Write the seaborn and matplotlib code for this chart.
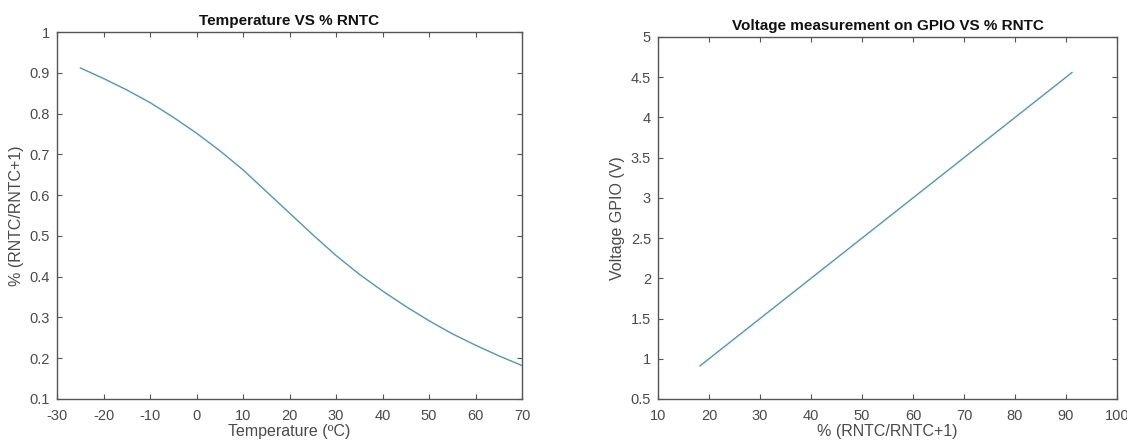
import matplotlib
matplotlib.use("Agg")
import matplotlib.pyplot as plt
import seaborn as sns
import pandas as pd

# Left panel: temperature vs fraction RNTC/(RNTC+1)
temperature = [-25, -20, -15, -10, -5, 0, 5, 10, 15, 20, 25, 30, 35, 40, 45, 50, 55, 60, 65, 70]
fraction = [0.912, 0.886, 0.858, 0.827, 0.791, 0.752, 0.709, 0.662, 0.609, 0.556, 0.503, 0.452, 0.406, 0.365, 0.327, 0.292, 0.260, 0.232, 0.206, 0.182]

# Right panel: percent vs GPIO voltage
percent = [18.2, 30.0, 40.0, 50.0, 60.0, 70.0, 80.0, 91.2]
voltage = [0.91, 1.50, 2.00, 2.50, 3.00, 3.50, 4.00, 4.56]

left_xticks = [-30, -20, -10, 0, 10, 20, 30, 40, 50, 60, 70]
left_yticks = [0.1, 0.2, 0.3, 0.4, 0.5, 0.6, 0.7, 0.8, 0.9, 1]
right_xticks = [10, 20, 30, 40, 50, 60, 70, 80, 90, 100]
right_yticks = [0.5, 1, 1.5, 2, 2.5, 3, 3.5, 4, 4.5, 5]

sns.set_style("white")
plt.rcParams['font.family'] = ['Liberation Sans', 'DejaVu Sans']

line_color = "#5096bd"
axis_color = "#555555"
text_color = "#4a4a4a"

fig = plt.figure(figsize=(11.27, 4.45), dpi=100)
ax1 = fig.add_axes([57/1127, 46/445, 465/1127, 367/445])
ax2 = fig.add_axes([658/1127, 46/445, 459/1127, 362/445])

df1 = pd.DataFrame({"t": temperature, "f": fraction})
df2 = pd.DataFrame({"p": percent, "v": voltage})
sns.lineplot(data=df1, x="t", y="f", ax=ax1, color=line_color, linewidth=1.0)
sns.lineplot(data=df2, x="p", y="v", ax=ax2, color=line_color, linewidth=1.0)

def fmt(v):
    return f"{v:g}"

def style(ax, xticks, yticks, title, xlabel, ylabel):
    ax.set_xlim(xticks[0], xticks[-1])
    ax.set_ylim(yticks[0], yticks[-1])
    ax.set_xticks(xticks)
    ax.set_yticks(yticks)
    ax.set_xticklabels([fmt(v) for v in xticks])
    ax.set_yticklabels([fmt(v) for v in yticks])
    ax.tick_params(direction="in", length=3.5, width=0.8, color=axis_color,
                   labelcolor=text_color, labelsize=10.5, top=True, right=True,
                   bottom=True, left=True)
    ax.tick_params(axis="x", pad=7)
    ax.tick_params(axis="y", pad=5)
    for sp in ax.spines.values():
        sp.set_visible(True)
        sp.set_color(axis_color)
        sp.set_linewidth(1.0)
    ax.set_title(title, fontsize=11, fontweight="bold", color="#111111", pad=5)
    ax.set_xlabel(xlabel, fontsize=11.5, color=text_color, labelpad=1)
    ax.set_ylabel(ylabel, fontsize=11.5, color=text_color, labelpad=4)

style(ax1, left_xticks, left_yticks, "Temperature VS % RNTC",
      "Temperature (ºC)", "% (RNTC/RNTC+1)")
style(ax2, right_xticks, right_yticks, "Voltage measurement on GPIO VS % RNTC",
      "% (RNTC/RNTC+1)", "Voltage GPIO (V)")

fig.savefig("out.png", dpi=100)
